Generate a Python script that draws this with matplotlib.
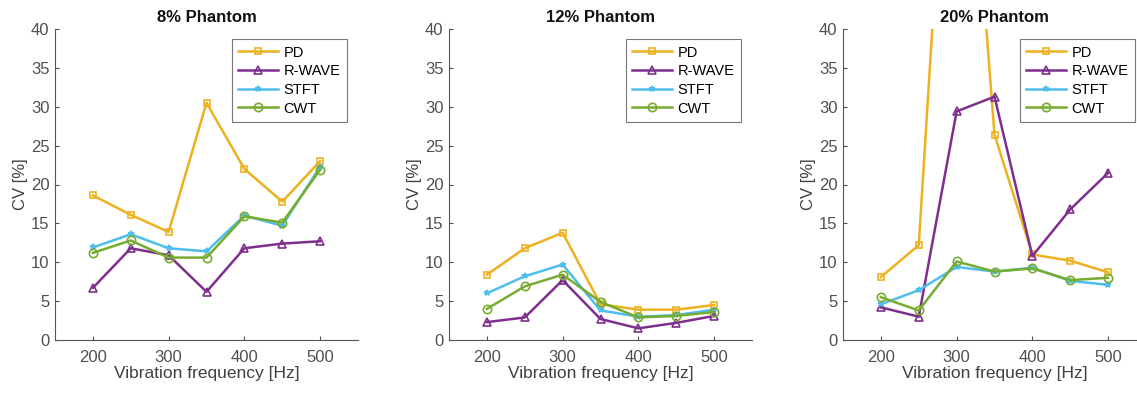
import numpy as np
import matplotlib.pyplot as plt

plt.rcParams['font.family'] = ['Liberation Sans', 'DejaVu Sans']

# frequencias de vibracao (Hz)
freqs = [200, 250, 300, 350, 400, 450, 500]
methods = ['PD', 'R-WAVE', 'STFT', 'CWT']
titles = ['8% Phantom', '12% Phantom', '20% Phantom']

# CV [%], um vetor por metodo e phantom
pd_8 = [18.6, 16.1, 13.9, 30.5, 22.0, 17.8, 23.0]
rwave_8 = [6.7, 11.8, 10.9, 6.2, 11.8, 12.4, 12.7]
stft_8 = [11.9, 13.6, 11.8, 11.4, 16.0, 14.7, 22.3]
cwt_8 = [11.2, 12.8, 10.6, 10.6, 15.9, 15.1, 21.9]

pd_12 = [8.4, 11.8, 13.8, 4.6, 3.9, 3.9, 4.5]
rwave_12 = [2.3, 2.9, 7.7, 2.7, 1.5, 2.2, 3.1]
stft_12 = [6.0, 8.2, 9.7, 3.8, 3.0, 3.2, 3.9]
cwt_12 = [4.0, 6.9, 8.4, 4.9, 2.9, 3.1, 3.6]

pd_20 = [8.1, 12.2, 90.0, 26.4, 11.0, 10.2, 8.7]
rwave_20 = [4.2, 3.0, 29.4, 31.3, 10.8, 16.8, 21.5]
stft_20 = [4.6, 6.4, 9.4, 8.8, 9.3, 7.6, 7.1]
cwt_20 = [5.5, 3.8, 10.1, 8.8, 9.2, 7.7, 8.0]

data = [
    [pd_8, rwave_8, stft_8, cwt_8],
    [pd_12, rwave_12, stft_12, cwt_12],
    [pd_20, rwave_20, stft_20, cwt_20],
]

# cores padrao do MATLAB
colors = ['#EDB120', '#7E2F8E', '#4DBEEE', '#77AC30']
markers = ['s', '^', '*', 'o']
msizes = [5, 6, 4, 6]

fig = plt.figure(figsize=(11.37, 3.93), dpi=100)
W, H = 1137, 393
lefts = [55, 449, 843]
ax_w, top, bottom = 303, 29, 340

for i in range(3):
    ax = fig.add_axes([lefts[i] / W, (H - bottom) / H, ax_w / W, (bottom - top) / H])
    for j in range(4):
        ax.plot(freqs, data[i][j], color=colors[j], marker=markers[j], ms=msizes[j],
                mfc='none', mew=1.2, lw=1.8, label=methods[j])
    ax.set_xlim(150, 550)
    ax.set_ylim(0, 40)
    ax.set_xticks([200, 300, 400, 500])
    ax.set_yticks(np.arange(0, 41, 5))
    ax.tick_params(direction='in', length=3, labelsize=12, colors='#505050')
    ax.tick_params(axis='x', pad=7)
    ax.tick_params(axis='y', pad=4)
    for s in ['top', 'right']:
        ax.spines[s].set_visible(False)
    for s in ['left', 'bottom']:
        ax.spines[s].set_color('#555555')
        ax.spines[s].set_linewidth(0.8)
    ax.set_xlabel('Vibration frequency [Hz]', fontsize=12.5, color='#404040', labelpad=1)
    ax.set_ylabel('CV [%]', fontsize=12, color='#404040', labelpad=2)
    ax.set_title(titles[i], fontsize=12, fontweight='bold', color='#111111', pad=5)
    leg = ax.legend(loc='upper right', fontsize=10.5, frameon=True, fancybox=False,
                    edgecolor='#555555', handlelength=2.7, borderpad=0.45, borderaxespad=0,
                    labelspacing=0.32, handletextpad=0.4, bbox_to_anchor=(0.964, 0.968))
    leg.get_frame().set_linewidth(0.8)

fig.savefig('out.png', dpi=100)
